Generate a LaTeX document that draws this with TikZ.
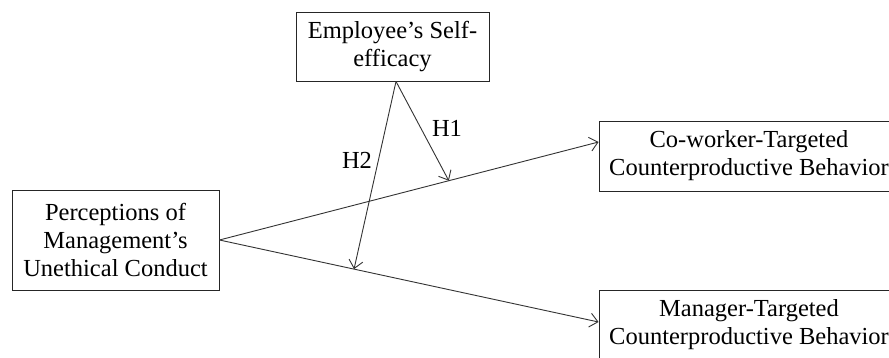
\documentclass[tikz,border=0pt]{standalone}
\usepackage{fontspec}
\setmainfont{Liberation Serif}
\usetikzlibrary{arrows.meta,calc}
\begin{document}
\begin{tikzpicture}[x=1pt,y=-1pt,
  txt/.style={font=\fontsize{24.5}{28}\selectfont},
  box/.style={txt, draw=black!85, line width=0.9pt, align=center, inner sep=0pt},
  conn/.style={draw=black!80, line width=0.9pt, -{Straight Barb[length=8pt,width=14pt]}},
  lab/.style={txt, inner sep=0pt}]
\useasboundingbox (0,0) rectangle (889,357);
\clip (0,0) rectangle (889,357);
\fill[white] (0,0) rectangle (889,357);
\node[box, minimum width=207pt, minimum height=100pt] (pm) at (115.5,240) {Perceptions of\\Management's\\Unethical Conduct};
\node[box, minimum width=193pt, minimum height=69pt] (es) at (392.5,46.5) {Employee's Self-\\efficacy};
\node[box, minimum width=300pt, minimum height=70pt] (cw) at (749,156) {Co-worker-Targeted\\Counterproductive Behavior};
\node[box, minimum width=300pt, minimum height=70pt] (mg) at (749,325) {Manager-Targeted\\Counterproductive Behavior};
\coordinate (cwt) at ([yshift=14pt]cw.west);
\coordinate (mgt) at ([yshift=3pt]mg.west);
\coordinate (src) at (pm.east);
\coordinate (apex) at ([xshift=3.5pt]es.south);
\coordinate (h1tip) at ($(src)!0.605!(cwt)$);
\coordinate (h2tip) at ($(src)!0.355!(mgt)$);
\draw[conn] (src) -- (cwt);
\draw[conn] (src) -- (mgt);
\draw[conn] (apex) -- (h1tip);
\draw[conn] (apex) -- (h2tip);
\node[lab] (h1) at (447,128) {H1};
\node[lab] (h2) at (357,160) {H2};
\end{tikzpicture}
\end{document}
